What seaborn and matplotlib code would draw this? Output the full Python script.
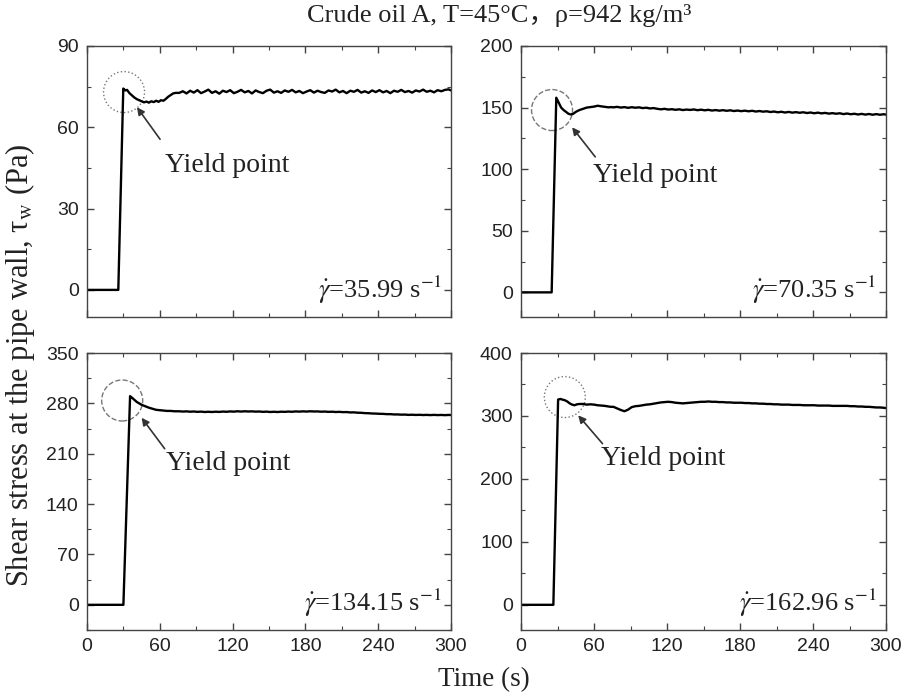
import numpy as np
import pandas as pd
import matplotlib
matplotlib.use("Agg")
import matplotlib.pyplot as plt
import seaborn as sns
from matplotlib.patches import Circle
from matplotlib.transforms import ScaledTranslation
from matplotlib.ticker import MultipleLocator

# ---------------- data ----------------
time_tail = [76, 79, 82, 85, 88, 91, 94, 97, 100, 103, 106, 109, 112, 115, 118, 121, 124, 127,
             130, 133, 136, 139, 142, 145, 148, 151, 154, 157, 160, 163, 166, 169, 172, 175,
             178, 181, 184, 187, 190, 193, 196, 199, 202, 205, 208, 211, 214, 217, 220, 223,
             226, 229, 232, 235, 238, 241, 244, 247, 250, 253, 256, 259, 262, 265, 268, 271,
             274, 277, 280, 283, 286, 289, 292, 295, 298, 300]

# panel A: 35.99 1/s
a_t_head = [0, 25.8, 29.9, 31.5, 33.0, 35.0, 37.0, 39.0, 41.0, 43.0, 45.0, 47.0, 49.0, 51.0,
            53.0, 55.0, 57.0, 59.0, 61.0, 63.0, 65.0, 67.0, 69.0, 71.0, 73.0]
a_v_head = [0, 0, 74.3, 73.6, 73.8, 72.6, 71.8, 71.0, 70.4, 70.0, 69.6, 69.2, 69.5, 69.1,
            69.6, 69.3, 69.8, 69.4, 70.0, 69.8, 70.5, 71.3, 71.9, 72.5, 72.7]
a_v_tail = [72.7, 73.3, 72.5, 73.5, 72.8, 73.7, 72.6, 73.2, 73.9, 72.7,
            73.3, 72.4, 73.5, 73.0, 73.7, 72.6, 73.1, 73.8, 72.9, 73.4,
            72.5, 73.6, 73.0, 72.6, 73.5, 73.9, 72.8, 73.3, 72.7, 73.6,
            73.1, 73.8, 72.9, 73.4, 72.6, 73.2, 73.7, 72.8, 73.5, 73.0,
            72.7, 73.6, 73.2, 73.9, 72.9, 73.4, 72.6, 73.5, 73.1, 73.8,
            72.8, 73.3, 72.7, 73.6, 73.0, 73.7, 72.9, 73.4, 72.6, 73.5,
            73.1, 73.8, 73.0, 73.4, 72.8, 73.6, 73.2, 73.9, 73.1, 73.5,
            72.9, 73.7, 73.3, 73.8, 74.0, 73.6]

# panel B: 70.35 1/s
b_t_head = [0, 25.2, 29.0, 31, 33, 35, 37, 39, 41, 43, 45, 48, 51, 54, 57, 60, 63, 66, 69, 72, 74]
b_v_head = [0, 0, 158, 154, 150, 148, 146.5, 145, 144.4, 145, 146.5, 148, 149, 150, 150.4,
            150.8, 151.5, 151, 150.6, 150.2, 150.4]
b_v_tail = [150.2, 150.6, 150.0, 150.4, 149.8, 150.3, 149.9, 150.2, 149.6, 149.9,
            149.3, 149.6, 149.0, 148.6, 149.0, 148.4, 148.7, 148.2, 148.6, 148.0,
            148.4, 148.1, 148.5, 147.9, 148.3, 147.8, 148.2, 147.6, 148.0, 147.5,
            147.9, 147.4, 147.8, 147.2, 147.6, 147.1, 147.5, 147.0, 147.4, 146.8,
            147.2, 146.7, 147.0, 146.4, 146.8, 146.2, 146.6, 146.0, 146.5, 145.9,
            146.3, 145.8, 146.2, 145.6, 146.0, 145.4, 145.9, 145.3, 145.7, 145.1,
            145.5, 145.0, 145.4, 144.7, 145.2, 144.6, 145.0, 144.4, 144.9, 144.3,
            144.8, 144.2, 144.7, 144.2, 144.6, 144.3]

# panel C: 134.15 1/s
c_t_head = [0, 30.0, 35.5, 37, 39, 41, 43, 45, 48, 51, 54, 57, 60, 63, 66, 69, 72, 74]
c_v_head = [0, 0, 290, 288, 285, 282, 280, 278, 276, 274, 272.5, 271, 270.5, 270, 269.5,
            269.5, 269, 269]
c_v_tail = [269.0, 268.6, 268.9, 268.4, 268.7, 268.2, 268.5, 268.0, 268.3, 268.0,
            268.4, 268.1, 268.6, 268.3, 268.8, 268.5, 269.0, 268.6, 269.0, 268.7,
            268.9, 268.5, 268.7, 268.2, 268.5, 268.0, 268.3, 268.0, 268.4, 268.2,
            268.6, 268.3, 268.8, 268.5, 268.9, 268.6, 269.0, 268.7, 268.8, 268.4,
            268.6, 268.2, 268.4, 268.0, 268.2, 267.8, 267.9, 267.4, 267.5, 267.0,
            266.9, 266.4, 266.3, 265.9, 265.8, 265.5, 265.4, 265.0, 265.0, 264.6,
            264.6, 264.3, 264.4, 264.0, 264.2, 263.9, 264.1, 263.8, 264.0, 263.7,
            264.0, 263.7, 263.9, 263.6, 263.9, 263.8]

# panel D: 162.96 1/s
d_t_head = [0, 26.6, 30.5, 32.5, 34, 36, 38, 40, 42, 44, 46, 48, 51, 54, 57, 60, 63, 66, 69, 72, 74]
d_v_head = [0, 0, 326, 327, 326, 325, 323, 320, 318, 317, 318.5, 319, 319, 318, 318.5, 318,
            317, 316.5, 316, 315, 314.5]
d_v_tail = [314.5, 312, 309.5, 307.5, 310, 314, 315.5, 316, 317, 318,
            318.5, 319.5, 320.5, 321.5, 322, 322.5, 322, 321, 320.5, 320,
            320.5, 321, 321.5, 322, 322.5, 322.5, 323, 322.5, 322.5, 322,
            322, 321.5, 321.5, 321, 321, 321, 320.5, 320.5, 320, 320,
            319.5, 319.5, 319, 319, 318.5, 318.5, 318, 318, 318, 317.5,
            317.5, 317.5, 317, 317, 317, 317, 316.5, 316.5, 316.5, 316.5,
            316, 316, 316, 316, 316, 315.5, 315.5, 315, 315, 314.5,
            314.5, 314, 313.5, 313.5, 313, 312.5]

rate_labels = ["35.99", "70.35", "134.15", "162.96"]
y_limits = [(-10, 90), (-20, 200), (-35, 350), (-40, 400)]
y_major = [30, 50, 70, 100]
x_ticks = [0, 60, 120, 180, 240, 300]

# yield-point annotation geometry (data coords): circle centre, arrow head, arrow tail, text pos
circle_centre = [(30.5, 73), (25.5, 148), (29, 284), (36, 330)]
circle_style = [":", "--", "--", ":"]
arrow_head = [(41.2, 67.4), (42, 134), (45, 260), (47, 301)]
arrow_tail = [(60.2, 55.6), (61, 110), (64, 217), (67, 256)]
text_pos = [(64, 46), (59, 95), (65, 197), (66, 232)]

heads_t = [a_t_head, b_t_head, c_t_head, d_t_head]
heads_v = [a_v_head, b_v_head, c_v_head, d_v_head]
tails_v = [a_v_tail, b_v_tail, c_v_tail, d_v_tail]

# ---------------- style ----------------
sns.set_theme(style="ticks")
serif = ["Liberation Serif", "Noto Sans CJK SC", "DejaVu Serif"]
plt.rcParams["font.family"] = serif
plt.rcParams["mathtext.fontset"] = "stix"
plt.rcParams["axes.edgecolor"] = "#444444"
plt.rcParams["axes.linewidth"] = 1.0

fig = plt.figure(figsize=(9.07, 6.99), dpi=100)
W, H = 907, 699
rects = [
    (87, 46, 364, 271),
    (521, 46, 365, 271),
    (87, 353, 364, 277),
    (521, 353, 365, 277),
]
axes = []
for (x0, y0, w, h) in rects:
    axes.append(fig.add_axes([x0 / W, 1 - (y0 + h) / H, w / W, h / H]))

for i, ax in enumerate(axes):
    df = pd.DataFrame({"t": heads_t[i] + time_tail, "v": heads_v[i] + tails_v[i]})
    sns.lineplot(data=df, x="t", y="v", ax=ax, color="black", linewidth=1.7,
                 estimator=None, sort=False)
    ax.set_xlim(0, 300)
    ax.set_xticks(x_ticks)
    ax.xaxis.set_minor_locator(MultipleLocator(30))
    ax.yaxis.set_major_locator(MultipleLocator(y_major[i]))
    ax.yaxis.set_minor_locator(MultipleLocator(y_major[i] / 2))
    ax.set_ylim(*y_limits[i])
    ax.tick_params(which="both", direction="in", top=True, right=True, color="#444444")
    ax.tick_params(which="major", length=5, width=1)
    ax.tick_params(which="minor", length=3, width=0.8)
    ax.tick_params(axis="both", labelsize=14, labelcolor="#222222", pad=6)
    for lab in ax.get_xticklabels() + ax.get_yticklabels():
        lab.set_fontfamily("Liberation Sans")
    if i < 2:
        ax.tick_params(axis="x", labelbottom=False)
    ax.set_xlabel("")
    ax.set_ylabel("")

    # yield point circle (fixed pixel radius)
    cx, cy = circle_centre[i]
    trans = fig.dpi_scale_trans + ScaledTranslation(cx, cy, ax.transData)
    circ = Circle((0, 0), 0.205, transform=trans, fill=False, edgecolor="#777777",
                  linestyle=circle_style[i], linewidth=1.0, clip_on=False)
    ax.add_artist(circ)

    ax.annotate("", xy=arrow_head[i], xytext=arrow_tail[i],
                arrowprops=dict(arrowstyle="-|>", color="#333333", lw=1.2,
                                mutation_scale=11, shrinkA=0, shrinkB=0))
    ax.text(text_pos[i][0], text_pos[i][1], "Yield point", fontsize=20,
            ha="left", va="center", color="#222222")
    ax.text(0.975, 0.04, r"$\dot{\gamma}$=" + rate_labels[i] + r" s$^{-1}$",
            transform=ax.transAxes, fontsize=19, ha="right", va="bottom", color="#222222")

fig.text(0.55, 0.978, "Crude oil A, T=45°C，ρ=942 kg/m³",
         fontsize=19, ha="center", va="center", color="#222222", family=serif)
fig.text(0.534, 0.028, "Time (s)", fontsize=19.5, ha="center", va="center", color="#222222")
fig.text(0.022, 0.478, r"Shear stress at the pipe wall, τ$_{\rm w}$ (Pa)", fontsize=22,
         rotation=90, ha="center", va="center", color="#222222")

fig.savefig("out.png", dpi=100)
